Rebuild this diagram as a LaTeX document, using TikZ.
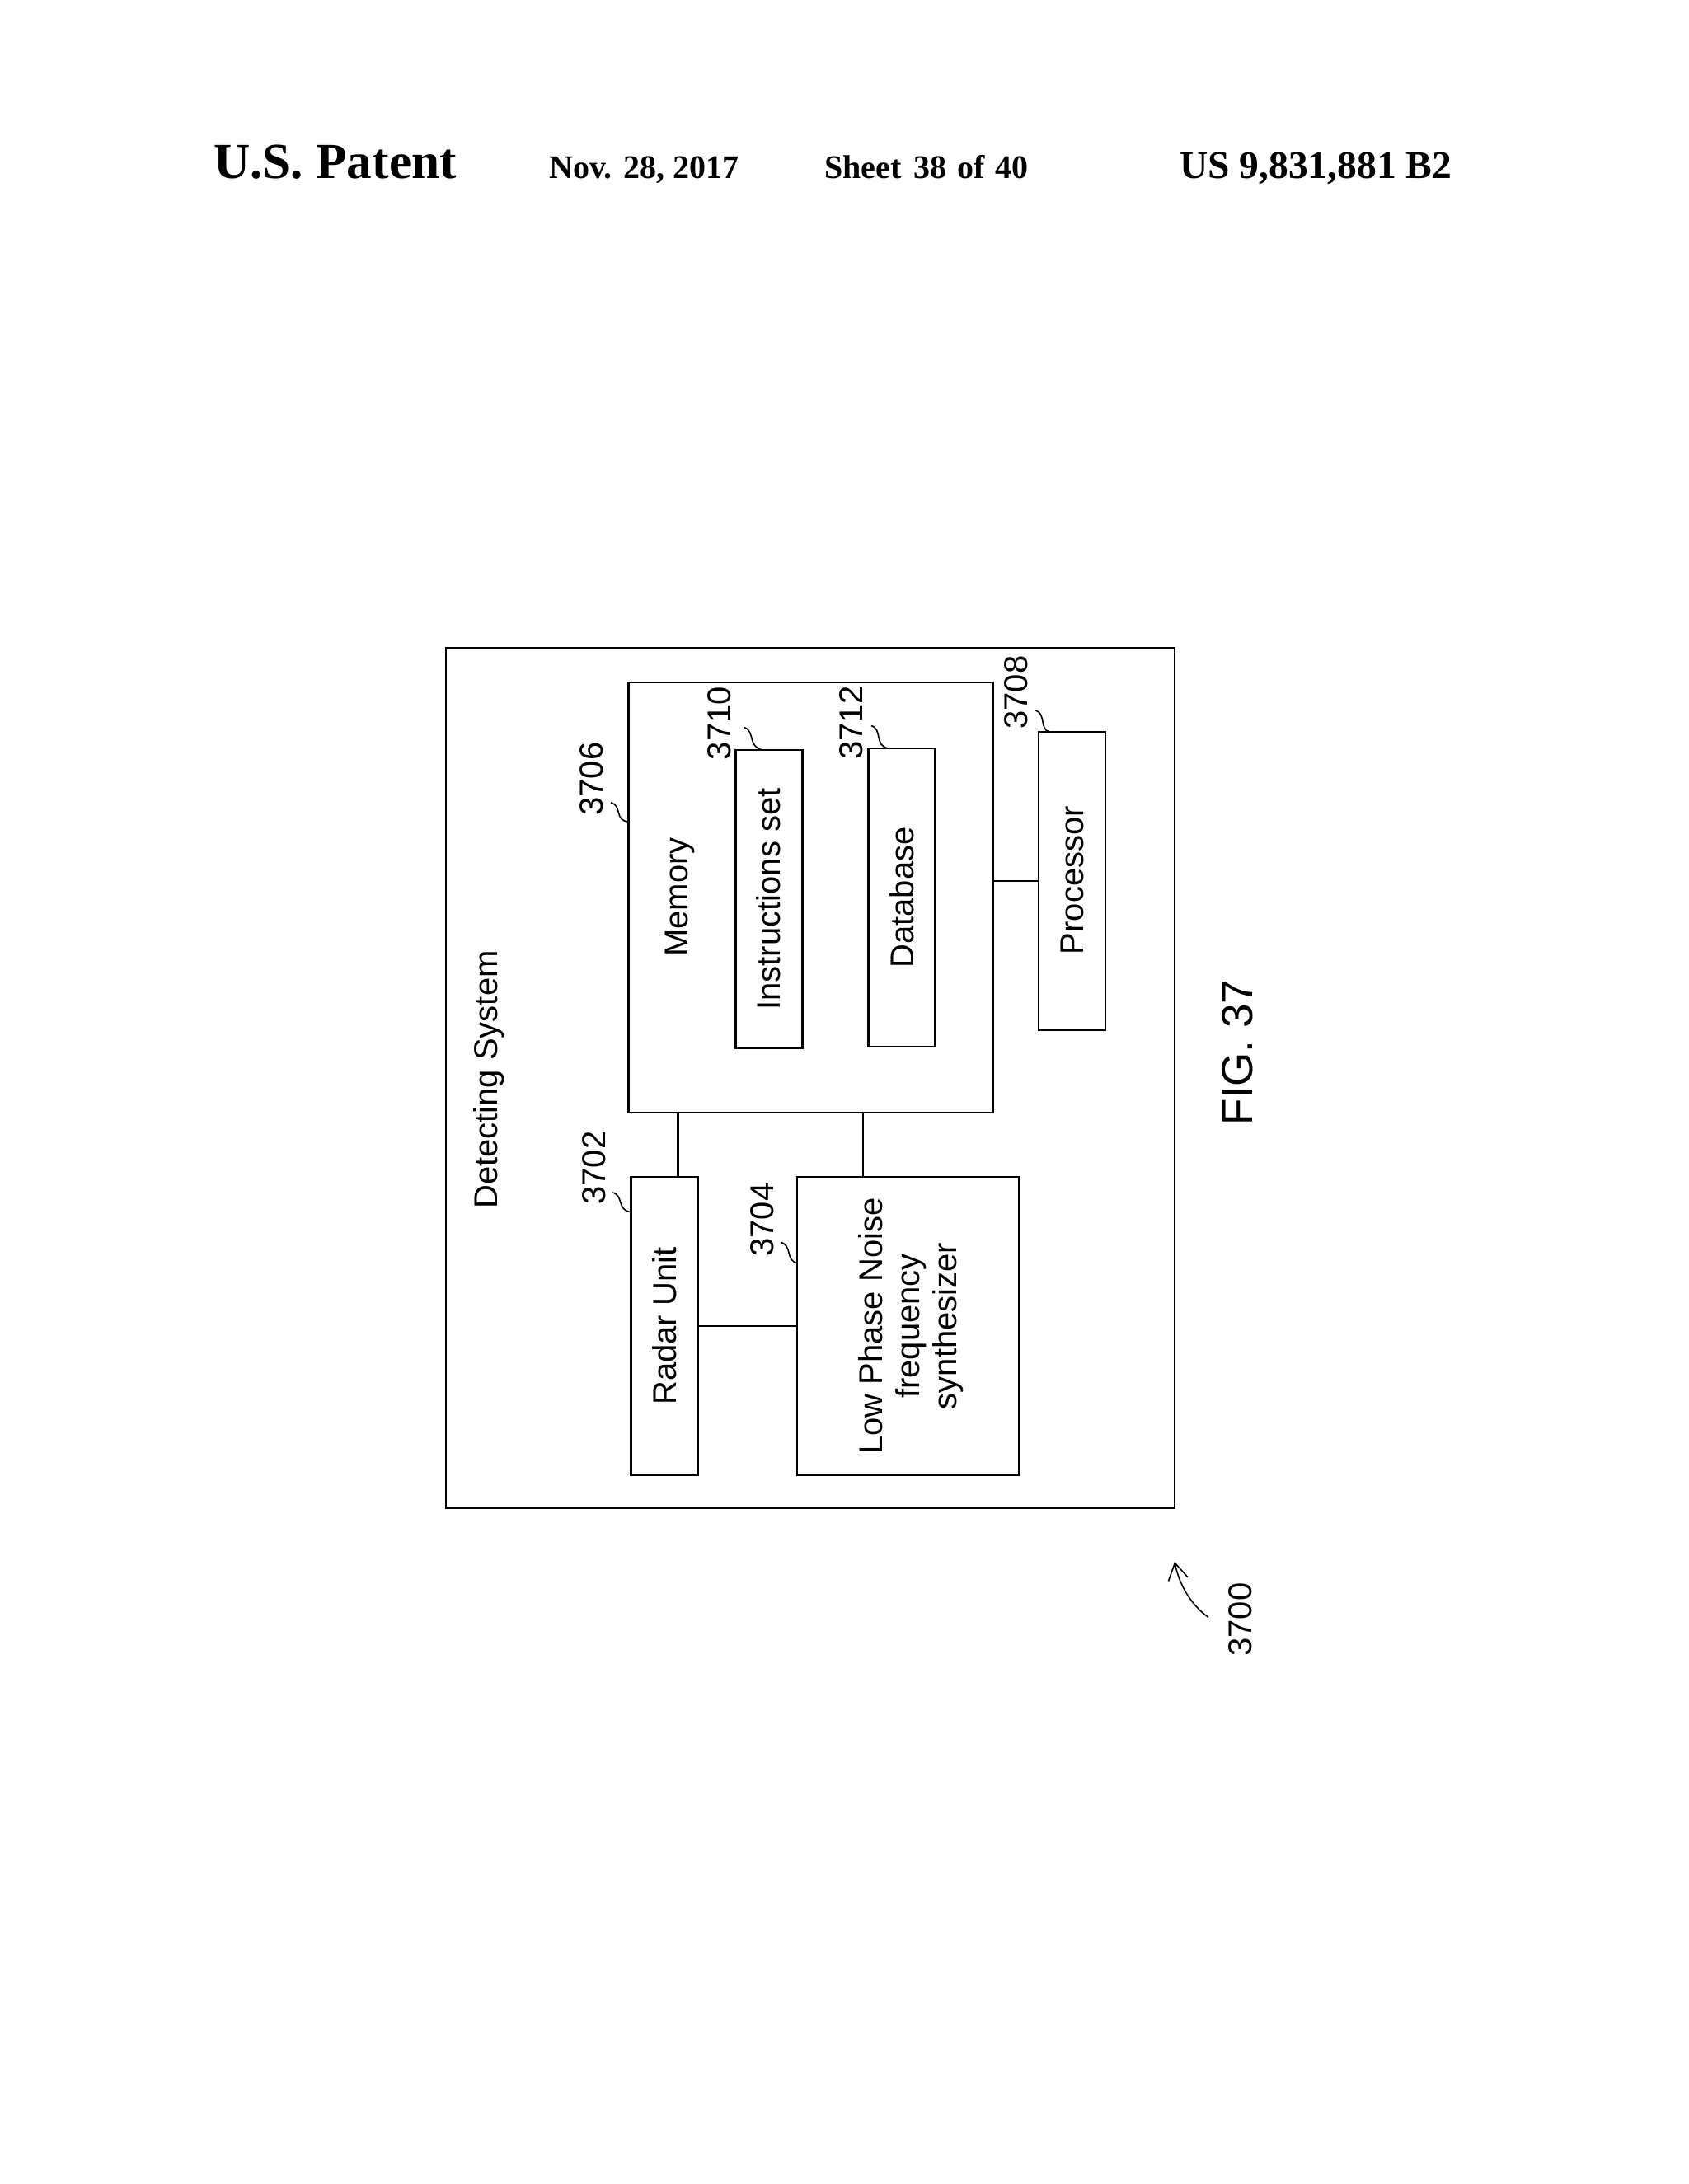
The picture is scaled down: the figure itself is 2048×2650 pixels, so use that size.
\documentclass[tikz,border=0pt]{standalone}
\usepackage{fontspec}
\setmainfont{Liberation Serif}
\newfontfamily\lsans{Liberation Sans}
\usetikzlibrary{arrows.meta}
\tikzset{
  box/.style={draw=black,line width=2.4pt,rectangle,inner sep=0pt,outer sep=0pt},
  conn/.style={draw=black,line width=2.4pt},
  lead/.style={draw=black,line width=1.6pt},
  lab/.style={font=\lsans\fontsize{40}{45}\selectfont,rotate=90,anchor=base,inner sep=0pt,text=black},
  head/.style={font=\bfseries\fontsize{40}{46}\selectfont,anchor=base west,inner sep=0pt,text=black},
}
\begin{document}
\begin{tikzpicture}[x=1pt,y=-1pt]
\useasboundingbox (0,0) rectangle (2048,2650);
\fill[white] (0,0) rectangle (2048,2650);
% header
\node[head,font=\bfseries\fontsize{61.3}{66}\selectfont] (hpatent) at (259,216) {U.S.\ Patent};
\node[head] (hdate) at (666,216) {Nov. 28, 2017};
\node[head] (hsheet) at (1000,216) {Sheet\hspace{5pt} 38\hspace{3pt} of\hspace{3pt} 40};
\node[head,font=\bfseries\fontsize{47.5}{50}\selectfont] (hnum) at (1431,216) {US 9,831,881 B2};
% boxes
\node[box,minimum width=884pt,minimum height=1043pt] (outer) at (983,1308) {};
\node[box,minimum width=442pt,minimum height=522pt] (mem) at (983.5,1089) {};
\node[box,minimum width=81pt,minimum height=362pt] (instr) at (933,1091) {};
\node[box,minimum width=81pt,minimum height=362pt] (db) at (1094,1089) {};
\node[box,minimum width=81pt,minimum height=362pt] (proc) at (1300.5,1069) {};
\node[box,minimum width=81pt,minimum height=362pt] (radar) at (806,1609) {};
\node[box,minimum width=269pt,minimum height=362pt] (lpn) at (1101.5,1609) {};
% connectors
\draw[conn] (mem.south -| 822.5,0) -- (radar.north -| 822.5,0);
\draw[conn] (mem.south -| 1047,0) -- (lpn.north -| 1047,0);
\draw[conn] (proc.west) -- (mem.east |- proc.west);
\draw[conn] (radar.east) -- (lpn.west);
% box texts
\node[lab] (tdet) at (603.5,1310) {Detecting System};
\node[lab] (tmem) at (834,1088.5) {Memory};
\node[lab] (tins) at (946,1091) {Instructions set};
\node[lab] (tdb) at (1108,1089) {Database};
\node[lab] (tproc) at (1314,1068) {Processor};
\node[lab] (trad) at (820,1609) {Radar Unit};
\node[lab,anchor=center,align=center] (tlpn) at (1105.5,1609) {Low Phase Noise\\frequency\\synthesizer};
% reference numbers
\node[lab] (n3706) at (731,945) {3706};
\node[lab] (n3710) at (886,877.5) {3710};
\node[lab] (n3712) at (1046,877) {3712};
\node[lab] (n3708) at (1246,840) {3708};
\node[lab] (n3702) at (734,1417) {3702};
\node[lab] (n3704) at (938,1480) {3704};
\node[lab] (n3700) at (1518,1965) {3700};
\node[lab,font=\lsans\fontsize{53}{60}\selectfont] (nfig) at (1519,1277) {FIG. 37};
% leaders
\coordinate (s3706) at (741,974);
\coordinate (s3710) at (903,882.5);
\coordinate (s3712) at (1057,880.5);
\coordinate (s3708) at (1256.5,862);
\coordinate (s3702) at (743,1447);
\coordinate (s3704) at (947,1507.5);
\coordinate (s3700) at (1466,1962.5);
\draw[lead] (s3706) .. controls (755,977) and (745,996) .. (mem.west |- 0,997);
\draw[lead] (s3710) .. controls (916,887) and (907,906) .. (instr.north -| 925,0);
\draw[lead] (s3712) .. controls (1071,885) and (1060,905) .. (db.north -| 1078,0);
\draw[lead] (s3708) .. controls (1269,866) and (1261,885) .. (proc.north -| 1273,0);
\draw[lead] (s3702) .. controls (757,1450) and (748,1469) .. (radar.west |- 0,1470.5);
\draw[lead] (s3704) .. controls (961,1510) and (953,1530) .. (lpn.west |- 0,1532.5);
\draw[lead,-{Straight Barb[length=20pt,width=24pt,line width=1.6pt]}] (s3700) .. controls (1446,1948) and (1431,1925) .. (outer.east |- 0,1895);
\end{tikzpicture}
\end{document}
